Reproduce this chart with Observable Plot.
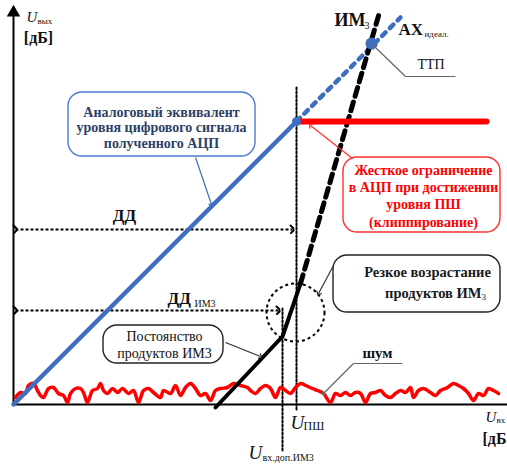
<!DOCTYPE html>
<html><head><meta charset="utf-8">
<script src="https://cdn.jsdelivr.net/npm/d3@7"></script>
<script src="https://cdn.jsdelivr.net/npm/@observablehq/plot@0.6"></script>
<style>html,body{margin:0;padding:0;background:#fff;}svg{display:block;}svg text{font-family:"Liberation Serif","DejaVu Serif",serif !important;}</style>
</head><body><div id="chart"></div>
<script>
// Schematic amplitude characteristic (units: arbitrary dB, origin at axes' crossing)
const blueSolid = [[0,0],[283,283]];
const blueDash = [[283,283],[387,387]];
const im3Solid = [[202,-3],[269,68],[287,121]];
const im3Dash = [[287,121],[366,392]];
const clipLine = [[283,283],[473,283]];
const ttpPoint = [[358,361]];
const clipPoint = [[283,283]];
const noisePoints = [[2,7],[7,12],[12,11],[15,19],[20,21],[24,14],[27,9],[30,7],[35,16],[40,17],[45,11],[50,9],[54,2],[57,11],[62,16],[67,16],[70,12],[74,2],[79,14],[84,16],[87,21],[90,14],[94,11],[99,16],[104,12],[109,16],[115,11],[120,14],[125,2],[130,14],[135,16],[140,12],[147,7],[150,14],[157,11],[162,19],[167,9],[172,17],[177,21],[182,16],[187,9],[192,11],[197,4],[202,14],[207,16],[214,17],[220,21],[227,19],[234,17],[237,14],[242,11],[247,16],[252,19],[257,16],[262,7],[267,17],[272,14],[277,11],[282,17],[287,21],[292,19],[299,16],[304,14],[310,11],[317,2],[322,11],[327,9],[332,12],[337,9],[342,12],[347,11],[352,2],[357,11],[362,12],[367,14],[372,9],[377,7],[382,11],[387,14],[392,12],[397,17],[400,7],[405,14],[410,16],[417,12],[422,9],[427,14],[434,17],[440,21],[445,19],[450,16],[455,11],[460,4],[465,11],[470,9],[475,16],[480,14],[485,11]];

const ddArrow = [[2,175],[279,175]];
const ddIm3Arrow = [[2,94],[265,94]];
const vLinePsh = [[283,317],[283,-5]];
const vLineIm3 = [[269,96],[269,-48]];
const circleCenter = [[282,92]];

const boxes = [
  {x1:55, x2:242, y1:248, y2:312, stroke:"#4a7bd0", dash:null},
  {x1:330, x2:487, y1:172, y2:247, stroke:"#ff3030", dash:"2,2"},
  {x1:320, x2:487, y1:92, y2:149, stroke:"#222", dash:null},
  {x1:90, x2:210, y1:41, y2:79, stroke:"#222", dash:null}
];
const pointers = [
  {x1:182, y1:247, x2:198, y2:200, stroke:"#3d6ec0", dash:null},
  {x1:339, y1:246, x2:297, y2:279, stroke:"#ff3030", dash:"2,2"},
  {x1:320, y1:139, x2:305, y2:111, stroke:"#333", dash:null},
  {x1:212, y1:62, x2:247, y2:48, stroke:"#333", dash:null},
  {x1:392, y1:328, x2:361, y2:358, stroke:"#666", dash:null},
  {x1:340, y1:41, x2:310, y2:11, stroke:"#666", dash:null}
];
const leaderTails = [
  {x1:442, y1:328, x2:392, y2:328},
  {x1:389, y1:41, x2:340, y2:41}
];

const blueText = ["Аналоговый эквивалент", "уровня цифрового сигнала", "полученного АЦП"];
const blueTextY = [292, 277, 261];
const redText = ["Жесткое ограничение", "в АЦП при достижении", "уровня ПШ", "(клиппирование)"];
const redTextY = [234, 217, 200, 182];
const riseText = ["Резкое возрастание"];
const constText = ["Постоянство", "продуктов ИМ3"];
const constTextY = [68, 51];

const boldCentered = [
  {t:"[дБ]", x:25, y:367, s:16},
  {t:"ДД", x:111, y:189, s:17},
  {t:"шум", x:364, y:51, s:15}
];
const boldStart = [
  {t:"[дБ", x:469, y:-34, s:16},
  {t:"ИМ", x:321, y:384, s:18},
  {t:"АХ", x:385, y:375, s:17},
  {t:"ДД", x:154, y:106, s:17}
];
const subLabels = [
  {t:"вых", x:24, y:383, s:9, st:"italic", w:"normal"},
  {t:"вх", x:483, y:-16, s:9, st:"italic", w:"normal"},
  {t:"3", x:351, y:379, s:10, st:"normal", w:"bold"},
  {t:"идеал.", x:411, y:370, s:9, st:"normal", w:"bold"},
  {t:"ИМ3", x:181, y:101, s:10, st:"normal", w:"bold"},
  {t:"ПШ", x:290, y:-22, s:12, st:"normal", w:"normal"},
  {t:"вх.доп.ИМ3", x:249, y:-53, s:10, st:"normal", w:"bold"},
  {t:"3", x:468, y:107, s:9, st:"normal", w:"bold"}
];
const italicU = [
  {x:13, y:387, s:15},
  {x:472, y:-13, s:15},
  {x:277, y:-18, s:19},
  {x:235, y:-48, s:19}
];

const serif = "Liberation Serif, DejaVu Serif, serif";
const blue = "#3d6ec0";

const chart = Plot.plot({
  width: 507, height: 466,
  marginTop: 0, marginRight: 0, marginBottom: 0, marginLeft: 0,
  x: {domain: [-13, 494], axis: null},
  y: {domain: [-62, 404], axis: null},
  style: {fontFamily: serif, background: "#fff"},
  marks: [
    // axes
    Plot.link([[0,0]], {x1: d=>d[0], y1: d=>d[1], x2: () => 0, y2: () => 392, stroke: "#000", strokeWidth: 2}),
    Plot.dot([[0,392]], {x: d=>d[0], y: d=>d[1], symbol: "triangle", r: 5, fill: "#000"}),
    Plot.link([[0,0]], {x1: d=>d[0], y1: d=>d[1], x2: () => 494, y2: () => 0, stroke: "#000", strokeWidth: 2}),
    // dotted guides
    Plot.line(vLinePsh, {x: d=>d[0], y: d=>d[1], stroke: "#000", strokeWidth: 2, strokeDasharray: "2,2"}),
    Plot.line(vLineIm3, {x: d=>d[0], y: d=>d[1], stroke: "#000", strokeWidth: 2, strokeDasharray: "2,2"}),
    Plot.link([ddArrow], {x1: d=>d[0][0], y1: d=>d[0][1], x2: d=>d[1][0], y2: d=>d[1][1], stroke: "#000", strokeWidth: 2, strokeDasharray: "3,2", markerStart: "arrow", markerEnd: "arrow"}),
    Plot.link([ddIm3Arrow], {x1: d=>d[0][0], y1: d=>d[0][1], x2: d=>d[1][0], y2: d=>d[1][1], stroke: "#000", strokeWidth: 2, strokeDasharray: "3,2", markerStart: "arrow", markerEnd: "arrow"}),
    Plot.dot(circleCenter, {x: d=>d[0], y: d=>d[1], r: 29, stroke: "#000", strokeWidth: 2, strokeDasharray: "3,3", fill: "none"}),
    // noise
    Plot.line(noisePoints, {x: d=>d[0], y: d=>d[1], stroke: "#ff0000", strokeWidth: 3.5, curve: "catmull-rom"}),
    // characteristics
    Plot.line(blueSolid, {x: d=>d[0], y: d=>d[1], stroke: blue, strokeWidth: 4.5}),
    Plot.line(blueDash, {x: d=>d[0], y: d=>d[1], stroke: blue, strokeWidth: 4.5, strokeDasharray: "5,6", strokeLinecap: "round"}),
    Plot.line(im3Solid, {x: d=>d[0], y: d=>d[1], stroke: "#000", strokeWidth: 4}),
    Plot.line(im3Dash, {x: d=>d[0], y: d=>d[1], stroke: "#000", strokeWidth: 5, strokeDasharray: "9,6"}),
    Plot.line(clipLine, {x: d=>d[0], y: d=>d[1], stroke: "#ff0000", strokeWidth: 6}),
    Plot.dot(clipPoint, {x: d=>d[0], y: d=>d[1], r: 4.5, fill: blue}),
    Plot.dot(ttpPoint, {x: d=>d[0], y: d=>d[1], r: 6, fill: blue}),
    // callout boxes
    Plot.rect(boxes, {x1: "x1", x2: "x2", y1: "y1", y2: "y2", rx: 14, fill: "none", stroke: "stroke", strokeWidth: 1.4, strokeDasharray: d => d.dash}),
    Plot.link(pointers, {x1: "x1", y1: "y1", x2: "x2", y2: "y2", stroke: "stroke", strokeWidth: 1.2, strokeDasharray: d => d.dash, markerEnd: "arrow"}),
    Plot.link(leaderTails, {x1: "x1", y1: "y1", x2: "x2", y2: "y2", stroke: "#666", strokeWidth: 1.2}),
    // callout texts
    Plot.text(blueText, {x: () => 148, y: (d,i) => blueTextY[i], text: d => d, fontFamily: serif, fontSize: 14, fontWeight: "bold", fill: "#2e3f66"}),
    Plot.text(redText, {x: () => 410, y: (d,i) => redTextY[i], text: d => d, fontFamily: serif, fontSize: 14, fontWeight: "bold", fill: "#ff0000"}),
    Plot.text(riseText, {x: () => 414, y: () => 132, text: d => d, fontFamily: serif, fontSize: 14.5, fontWeight: "bold", fill: "#1a1a1a"}),
    Plot.text(["продуктов ИМ"], {x: () => 468, y: () => 111, text: d => d, textAnchor: "end", fontFamily: serif, fontSize: 14.5, fontWeight: "bold", fill: "#1a1a1a"}),
    Plot.text(constText, {x: () => 151, y: (d,i) => constTextY[i], text: d => d, fontFamily: serif, fontSize: 14, fill: "#111"}),
    // labels
    Plot.text(boldCentered, {x: "x", y: "y", text: "t", fontSize: d => d.s, textAnchor: "middle", fontFamily: serif, fontWeight: "bold", fill: "#111"}),
    Plot.text(boldStart, {x: "x", y: "y", text: "t", fontSize: d => d.s, textAnchor: "start", fontFamily: serif, fontWeight: "bold", fill: "#111"}),
    Plot.text(italicU, {x: "x", y: "y", text: () => "U", fontSize: d => d.s, textAnchor: "start", fontFamily: serif, fontStyle: "italic", fill: "#111"}),
    Plot.text(subLabels, {x: "x", y: "y", text: "t", fontSize: d => d.s, textAnchor: "start", fontFamily: serif, fontStyle: d => d.st, fontWeight: d => d.w, fill: "#111"}),
    Plot.text(["ТТП"], {x: () => 404, y: () => 340, text: d => d, fontFamily: serif, fontSize: 14, textAnchor: "start", fill: "#111"})
  ]
});
document.getElementById("chart").appendChild(chart);
</script>
</body></html>
